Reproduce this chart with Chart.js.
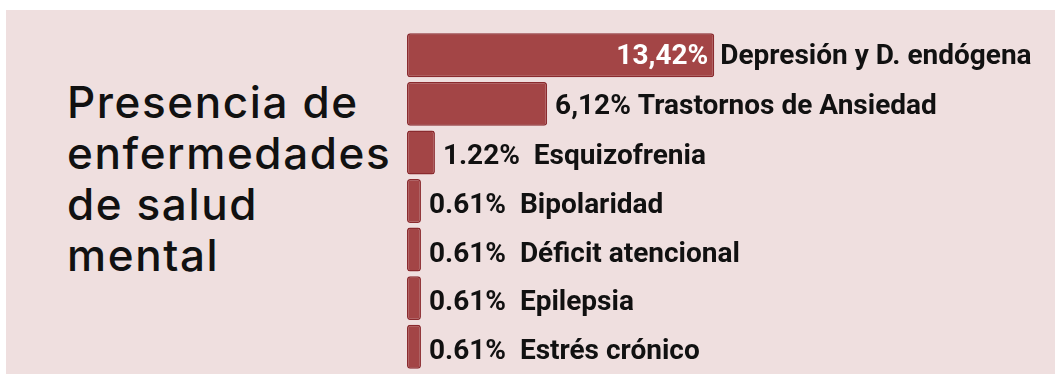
<!DOCTYPE html>
<html>
<head>
<meta charset="utf-8">
<script src="https://cdn.jsdelivr.net/npm/chart.js@4"></script>
<style>
  html, body { margin: 0; padding: 0; background: #ffffff; }
  .wrap { position: relative; width: 1055px; height: 375px; }
  .panel { position: absolute; left: 6px; top: 10px; width: 1049px; height: 364px; background: #efdfdf; }
  #chart { position: absolute; left: 0; top: 0; }
  .title {
    position: absolute; left: 67px; top: 77px; margin: 0;
    font-family: Inter, "Noto Sans", sans-serif; font-weight: 500;
    font-size: 44px; line-height: 51px; letter-spacing: 1.6px; color: #111111;
  }
</style>
</head>
<body>
<div class="wrap">
  <div class="panel"></div>
  <h1 class="title">Presencia de<br>enfermedades<br>de salud<br>mental</h1>
  <canvas id="chart" width="1055" height="375"></canvas>
</div>
<script>
// porcentajes por enfermedad
const categories = ['Depresión y D. endógena', 'Trastornos de Ansiedad', 'Esquizofrenia', 'Bipolaridad', 'Déficit atencional', 'Epilepsia', 'Estrés crónico'];
const values = [13.42, 6.12, 1.22, 0.61, 0.61, 0.61, 0.61];
const valueLabels = ['13,42%', '6,12%', '1.22%', '0.61%', '0.61%', '0.61%', '0.61%'];

// etiquetas al lado de cada barra (la primera lleva el valor dentro)
const barLabels = {
    id: 'barLabels',
    afterDatasetsDraw(chart) {
        const ctx = chart.ctx;
        const meta = chart.getDatasetMeta(0);
        ctx.save();
        ctx.font = 'bold 28px Roboto, "Noto Sans", sans-serif';
        ctx.textBaseline = 'middle';
        meta.data.forEach((bar, i) => {
            if (i === 0) {
                const y = bar.y + 2;
                ctx.fillStyle = '#ffffff';
                ctx.textAlign = 'right';
                ctx.fillText(valueLabels[i], bar.x - 6, y);
                ctx.fillStyle = '#111111';
                ctx.textAlign = 'left';
                ctx.fillText(categories[i], bar.x + 6, y);
            } else {
                const y = bar.y + (i === 1 ? 3 : 5);
                const sep = i === 1 ? ' ' : '  ';
                ctx.fillStyle = '#111111';
                ctx.textAlign = 'left';
                ctx.fillText(valueLabels[i] + sep + categories[i], bar.x + 8, y);
            }
        });
        ctx.restore();
    }
};

var chart_ctx = document.getElementById('chart').getContext('2d');

var salud_chart = new Chart(chart_ctx, {
    type: 'bar',
    data: {
        labels: categories,
        datasets: [{
            data: values,
            backgroundColor: '#a34546',
            borderColor: '#8a2a2e',
            borderWidth: 1.5,
            borderRadius: 3,
            borderSkipped: false,
            categoryPercentage: 1,
            barPercentage: 0.905
        }]
    },
    options: {
        indexAxis: 'y',
        responsive: false,
        animation: false,
        layout: {
            padding: { left: 407, right: 7, top: 31, bottom: 4 }
        },
        scales: {
            x: { display: false, min: 0, max: 28 },
            y: { display: false }
        },
        plugins: {
            legend: { display: false },
            tooltip: { enabled: false }
        }
    },
    plugins: [barLabels]
});
</script>
</body>
</html>
